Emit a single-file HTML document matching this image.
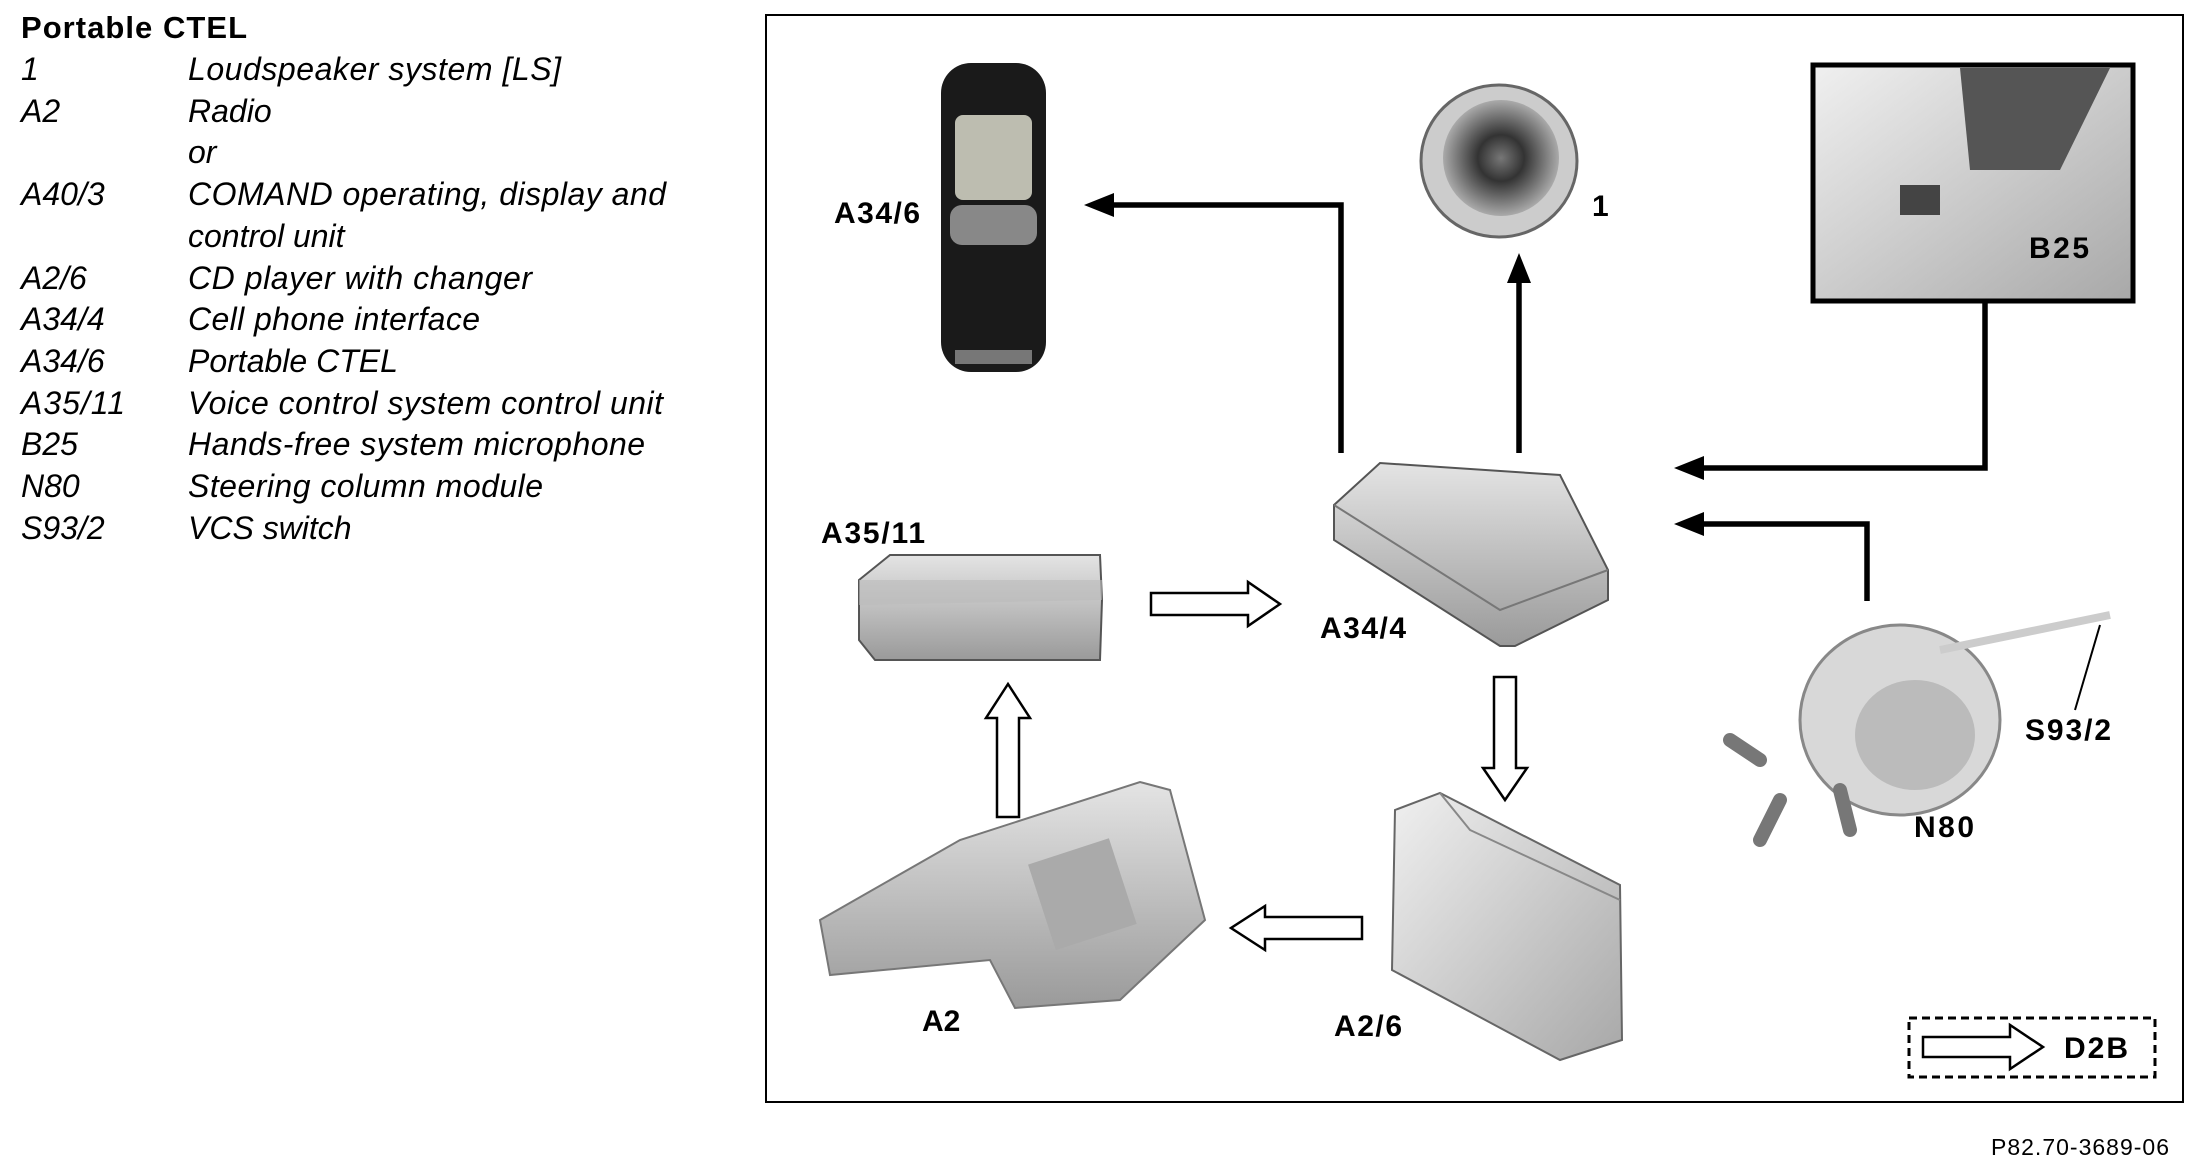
<!DOCTYPE html>
<html><head><meta charset="utf-8"><style>
html,body{margin:0;padding:0;background:#fff;}
body{width:2202px;height:1174px;overflow:hidden;position:relative;}
svg{position:absolute;left:0;top:0;}
</style></head><body>
<svg width="2202" height="1174" viewBox="0 0 2202 1174" xmlns="http://www.w3.org/2000/svg">
<defs>
<linearGradient id="g1" x1="0" y1="0" x2="0" y2="1"><stop offset="0" stop-color="#e4e4e4"/><stop offset="1" stop-color="#9a9a9a"/></linearGradient>
<linearGradient id="g2" x1="0" y1="0" x2="1" y2="1"><stop offset="0" stop-color="#f0f0f0"/><stop offset="1" stop-color="#a8a8a8"/></linearGradient>
<radialGradient id="sp" cx="0.5" cy="0.5" r="0.5"><stop offset="0" stop-color="#777"/><stop offset="0.4" stop-color="#333"/><stop offset="1" stop-color="#aaa"/></radialGradient>
</defs>
<g font-family="Liberation Sans, sans-serif" fill="#000">
<text x="21" y="38" font-size="31" font-weight="bold" textLength="226">Portable CTEL</text>
<g font-size="32" font-style="italic">
<text x="21" y="80">1</text><text x="188" y="80" textLength="373">Loudspeaker system [LS]</text>
<text x="21" y="122">A2</text><text x="188" y="122">Radio</text>
<text x="188" y="163">or</text>
<text x="21" y="205">A40/3</text><text x="188" y="205" textLength="478">COMAND operating, display and</text>
<text x="188" y="247">control unit</text>
<text x="21" y="289">A2/6</text><text x="188" y="289" textLength="344">CD player with changer</text>
<text x="21" y="330">A34/4</text><text x="188" y="330" textLength="292">Cell phone interface</text>
<text x="21" y="372">A34/6</text><text x="188" y="372">Portable CTEL</text>
<text x="21" y="414" textLength="104">A35/11</text><text x="188" y="414" textLength="475">Voice control system control unit</text>
<text x="21" y="455">B25</text><text x="188" y="455" textLength="457">Hands-free system microphone</text>
<text x="21" y="497">N80</text><text x="188" y="497" textLength="355">Steering column module</text>
<text x="21" y="539">S93/2</text><text x="188" y="539">VCS switch</text>
</g>
<text x="1991" y="1155" font-size="23" textLength="178">P82.70-3689-06</text>
</g>
<rect x="766" y="15" width="1417" height="1087" fill="none" stroke="#000" stroke-width="2"/>

<!-- phone -->
<rect x="941" y="63" width="105" height="309" rx="30" fill="#1a1a1a"/>
<rect x="955" y="115" width="77" height="85" rx="8" fill="#bdbdb0"/>
<rect x="950" y="205" width="87" height="40" rx="12" fill="#888"/>
<rect x="955" y="350" width="77" height="14" fill="#777"/>
<!-- speaker -->
<ellipse cx="1499" cy="161" rx="78" ry="76" fill="#ccc" stroke="#666" stroke-width="3"/>
<ellipse cx="1501" cy="158" rx="58" ry="58" fill="url(#sp)"/>
<!-- B25 box -->
<rect x="1813" y="65" width="320" height="236" fill="url(#g2)" stroke="#000" stroke-width="5"/>
<path d="M1960 68 L2110 68 L2060 170 L1970 170Z" fill="#555"/>
<rect x="1900" y="185" width="40" height="30" fill="#444"/>
<!-- A35/11 box -->
<path d="M859 580 L890 555 L1100 555 L1102 600 L1100 660 L875 660 L859 640Z" fill="url(#g1)" stroke="#555" stroke-width="2"/>
<path d="M859 580 L1102 580 L1102 600 L859 605Z" fill="#bbb" opacity="0.6"/>
<!-- A34/4 box -->
<path d="M1334 505 L1380 463 L1560 475 L1608 570 L1608 600 L1515 646 L1500 646 L1334 540Z" fill="url(#g1)" stroke="#555" stroke-width="2"/>
<path d="M1334 505 L1500 610 L1608 570" fill="none" stroke="#777" stroke-width="2"/>
<!-- N80 -->
<ellipse cx="1900" cy="720" rx="100" ry="95" fill="#d8d8d8" stroke="#888" stroke-width="3"/>
<ellipse cx="1915" cy="735" rx="60" ry="55" fill="#bbb"/>
<path d="M1760 760 L1730 740 M1780 800 L1760 840 M1840 790 L1850 830" stroke="#777" stroke-width="14" stroke-linecap="round"/>
<path d="M1940 650 L2110 615" stroke="#ccc" stroke-width="8"/>
<path d="M2100 625 L2075 710" stroke="#000" stroke-width="2"/>
<!-- A2/6 -->
<path d="M1395 810 L1440 793 L1620 885 L1622 1040 L1560 1060 L1392 970Z" fill="url(#g2)" stroke="#666" stroke-width="2"/>
<path d="M1440 793 L1470 830 L1620 900" fill="none" stroke="#888" stroke-width="2"/>
<!-- A2 -->
<path d="M820 920 L960 840 L1140 782 L1170 790 L1205 920 L1120 1000 L1015 1008 L990 960 L830 975Z" fill="url(#g1)" stroke="#777" stroke-width="2"/>
<rect x="1040" y="850" width="85" height="90" fill="#aaa" transform="rotate(-18 1080 895)"/>

<g font-family="Liberation Sans, sans-serif" font-weight="bold" font-size="30" fill="#000">
<text x="834" y="223" textLength="86">A34/6</text>
<text x="1592" y="216">1</text>
<text x="2029" y="258" textLength="60">B25</text>
<text x="821" y="543" textLength="104">A35/11</text>
<text x="1320" y="638" textLength="86">A34/4</text>
<text x="2025" y="740" textLength="86">S93/2</text>
<text x="1914" y="837" textLength="60">N80</text>
<text x="1334" y="1036" textLength="68">A2/6</text>
<text x="922" y="1031">A2</text>
<text x="2064" y="1058" textLength="64">D2B</text>
</g>

<!-- solid arrows -->
<g fill="none" stroke="#000" stroke-width="5.5">
<polyline points="1341,453 1341,205 1110,205"/>
<line x1="1519" y1="453" x2="1519" y2="280"/>
<polyline points="1985,302 1985,468 1700,468"/>
<polyline points="1867,601 1867,524 1700,524"/>
</g>
<g fill="#000">
<polygon points="1084,205 1114,193 1114,217"/>
<polygon points="1519,253 1507,283 1531,283"/>
<polygon points="1674,468 1704,456 1704,480"/>
<polygon points="1674,524 1704,512 1704,536"/>
</g>
<!-- hollow arrows -->
<g fill="#fff" stroke="#000" stroke-width="2.5">
<polygon points="1151,593 1248,593 1248,582 1280,604 1248,626 1248,615 1151,615"/>
<polygon points="1494,677 1516,677 1516,768 1527,768 1505,800 1483,768 1494,768"/>
<polygon points="1362,917 1265,917 1265,906 1231,928 1265,950 1265,939 1362,939"/>
<polygon points="997,817 1019,817 1019,718 1030,718 1008,684 986,718 997,718"/>
<polygon points="1923,1037 2010,1037 2010,1025 2043,1047 2010,1069 2010,1057 1923,1057"/>
</g>
<rect x="1909" y="1018" width="246" height="59" fill="none" stroke="#000" stroke-width="3" stroke-dasharray="8,5"/>
</svg>
</body></html>
